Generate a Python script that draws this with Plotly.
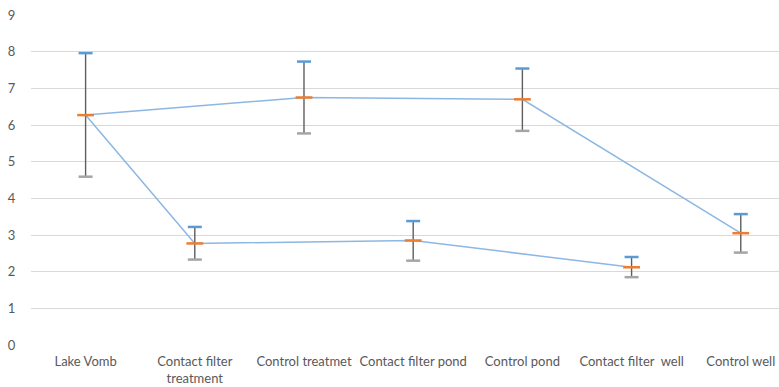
import plotly.graph_objects as go

categories = ["Lake Vomb", "Contact filter<br>treatment", "Control treatmet",
              "Contact filter pond", "Control pond", "Contact filter\u00a0 well", "Control well"]
means = [6.27, 2.77, 6.75, 2.85, 6.70, 2.12, 3.05]
highs = [7.96, 3.22, 7.73, 3.38, 7.54, 2.40, 3.57]
lows = [4.59, 2.33, 5.77, 2.30, 5.84, 1.85, 2.52]

control_idx = [0, 2, 4, 6]
filter_idx = [0, 1, 3, 5]

y_ticks = list(range(0, 10))

fig = go.Figure()

line_color = "#8db7e3"
for idx in (control_idx, filter_idx):
    fig.add_trace(go.Scatter(
        x=[categories[i] for i in idx], y=[means[i] for i in idx],
        mode="lines", line=dict(color=line_color, width=1.5),
        hoverinfo="skip", showlegend=False))

vx, vy = [], []
for c, lo, hi in zip(categories, lows, highs):
    vx += [c, c, None]
    vy += [lo, hi, None]
fig.add_trace(go.Scatter(x=vx, y=vy, mode="lines",
                         line=dict(color="#5e5e5e", width=1.4),
                         hoverinfo="skip", showlegend=False))

fig.add_trace(go.Scatter(x=categories, y=highs, mode="markers",
                         marker=dict(symbol="line-ew", size=10,
                                     line=dict(color="#5b9bd5", width=2.5)),
                         showlegend=False))
fig.add_trace(go.Scatter(x=categories, y=lows, mode="markers",
                         marker=dict(symbol="line-ew", size=10,
                                     line=dict(color="#a5a5a5", width=2.5)),
                         showlegend=False))
fig.add_trace(go.Scatter(x=categories, y=means, mode="markers",
                         marker=dict(symbol="line-ew", size=12,
                                     line=dict(color="#ed7d31", width=2.5)),
                         showlegend=False))

fig.update_layout(
    width=779, height=387,
    margin=dict(l=31, r=0, t=15, b=42),
    paper_bgcolor="white", plot_bgcolor="white",
    font=dict(family="Lato, Open Sans, sans-serif", size=13, color="#595959"),
    showlegend=False,
    xaxis=dict(type="category", categoryorder="array", categoryarray=categories,
               range=[-0.5, 6.35], showgrid=False, showline=False, zeroline=False,
               automargin=False,
               ticks="outside", ticklen=4, tickcolor="rgba(0,0,0,0)",
               tickfont=dict(size=13, color="#595959")),
    yaxis=dict(range=[0, 9], tickvals=y_ticks, showgrid=True, gridcolor="#d9d9d9",
               gridwidth=1, zeroline=False, showline=False, automargin=False,
               ticks="outside", ticklen=12, tickcolor="rgba(0,0,0,0)",
               tickfont=dict(size=13, color="#595959")),
)

fig.write_html("out.html", config={"displayModeBar": False},
               post_script="document.body.style.margin='0';document.body.style.overflow='hidden';")
